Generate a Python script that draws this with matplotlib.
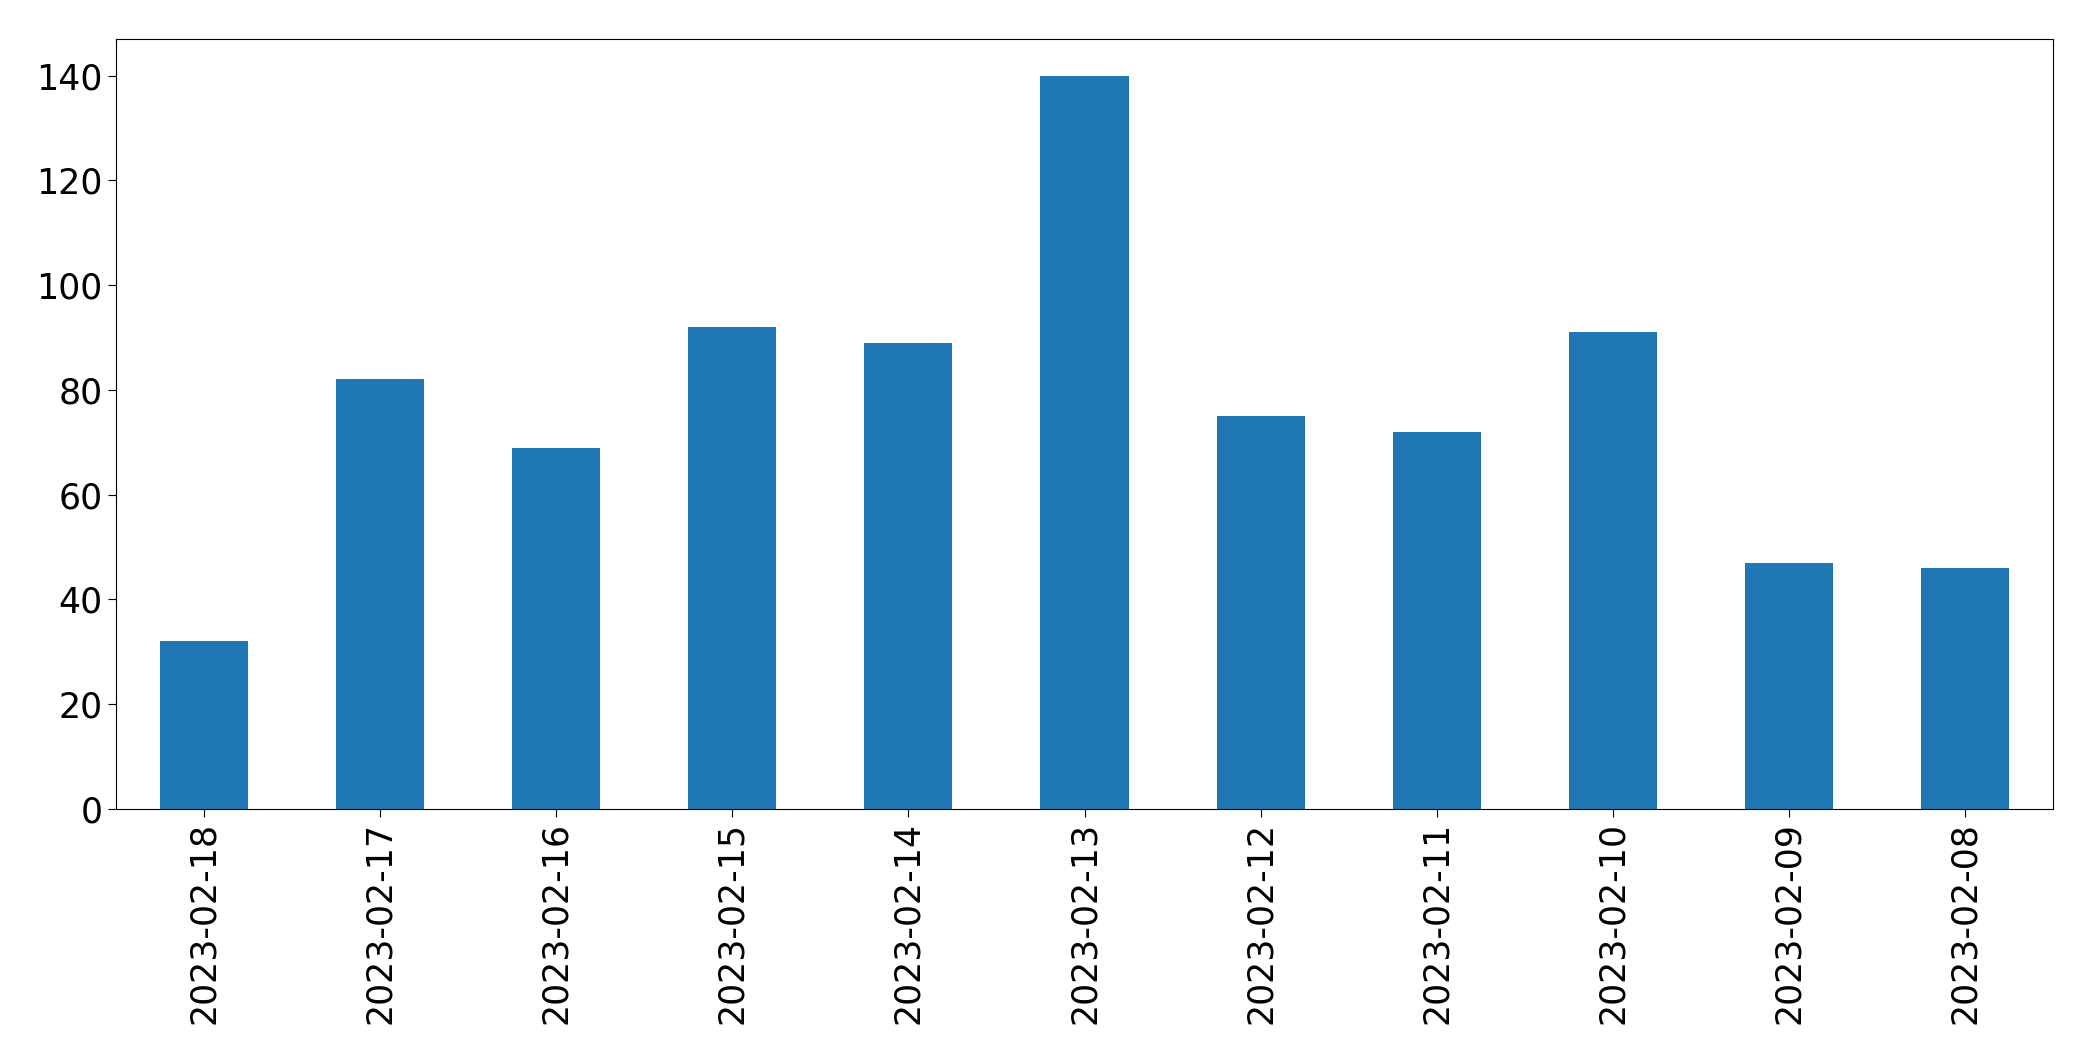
#!/usr/bin/env python3
import matplotlib
matplotlib.use('Agg')
import matplotlib.pyplot as plt
import pandas as pd

# daily counts, newest first (as in the original)
dates = ['2023-02-18', '2023-02-17', '2023-02-16', '2023-02-15', '2023-02-14',
         '2023-02-13', '2023-02-12', '2023-02-11', '2023-02-10', '2023-02-09',
         '2023-02-08']
counts = [32, 82, 69, 92, 89, 140, 75, 72, 91, 47, 46]


def main():
    s = pd.Series(counts, index=dates)
    fig, ax = plt.subplots(figsize=(20.93, 10.61), dpi=100)
    s.plot(kind='bar', ax=ax, color='#1f77b4', width=0.5)
    ax.tick_params(axis='both', labelsize=25, length=6)
    plt.subplots_adjust(left=116 / 2093, right=2053 / 2093,
                        top=1 - 39 / 1061, bottom=1 - 809 / 1061)
    fig.savefig('out.png', dpi=100)


if __name__ == '__main__':
    main()
